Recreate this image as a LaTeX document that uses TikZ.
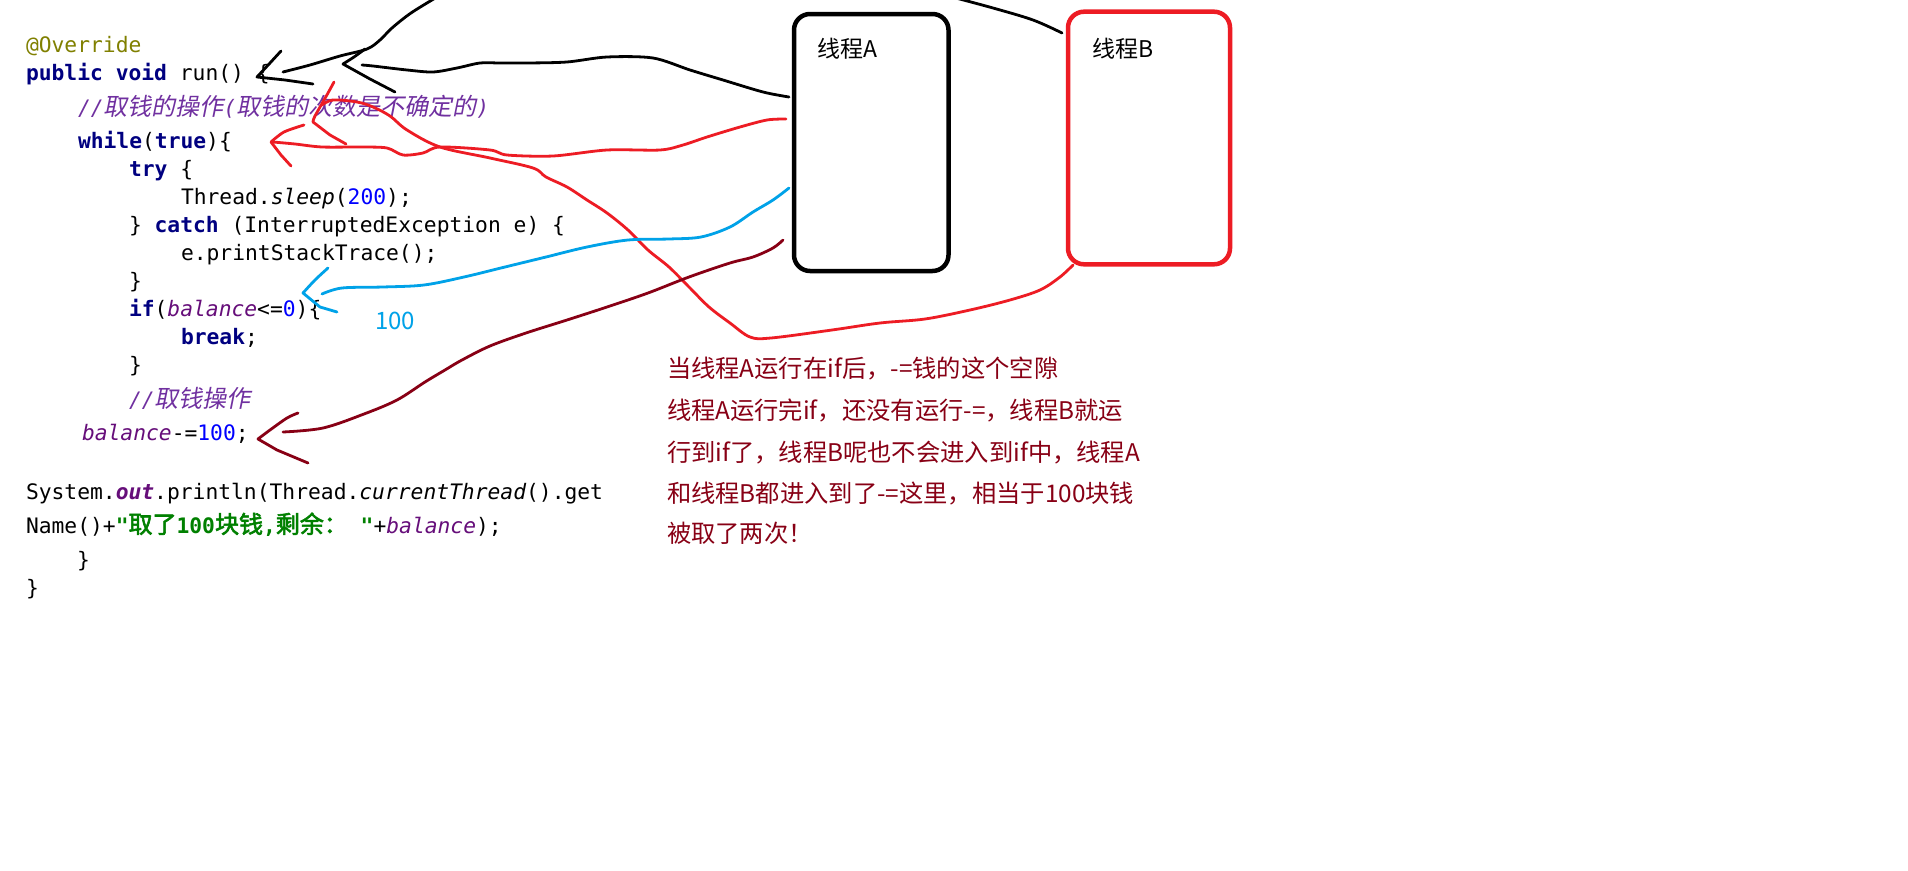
\documentclass[tikz,border=0pt]{standalone}
\usepackage{fontspec}
\setmonofont{DejaVu Sans Mono}
\newfontfamily\cjk[ItalicFont={Noto Sans CJK SC},ItalicFeatures={FakeSlant=0.2},BoldFont={Noto Sans CJK SC},BoldFeatures={FakeBold=2.5}]{Noto Sans CJK SC}
\newfontfamily\uifont{Noto Sans CJK SC}
\definecolor{annc}{HTML}{808000}
\definecolor{kwc}{HTML}{000080}
\definecolor{cmc}{HTML}{7030A0}
\definecolor{fldc}{HTML}{660E7A}
\definecolor{numc}{HTML}{0000FF}
\definecolor{strc}{HTML}{008000}
\definecolor{pred}{HTML}{ED1C24}
\definecolor{pblue}{HTML}{00A2E8}
\definecolor{pdark}{HTML}{880015}
\newcommand\codefont{\ttfamily\fontsize{21.3}{25}\selectfont}
\newcommand\cj[1]{{\cjk\fontsize{24}{28}\selectfont #1}}
\newcommand\jkw[1]{{\color{kwc}\bfseries #1}}
\newcommand\jfld[1]{{\color{fldc}\itshape #1}}
\newcommand\jnum[1]{{\color{numc}#1}}
\tikzset{
  codeline/.style={anchor=base west, inner sep=0pt, outer sep=0pt, font=\codefont},
  uitext/.style={anchor=base west, inner sep=0pt, outer sep=0pt, font=\uifont\fontsize{24.3}{28}\selectfont, text=pdark},
  boxlabel/.style={anchor=base west, inner sep=0pt, font=\uifont\fontsize{23}{27}\selectfont},
  threadbox/.style={draw, rounded corners=16pt, line width=4.5pt, inner sep=0pt, fill=none},
  pen/.style={line width=2.8pt, line cap=round, line join=round},
  blk/.style={pen, draw=black},
  rd/.style={pen, draw=pred},
  bl/.style={pen, draw=pblue},
  dk/.style={pen, draw=pdark},
}
\begin{document}
\begin{tikzpicture}[x=1pt,y=-1pt]
\fill[white] (0,0) rectangle (1908,870);
\useasboundingbox (0,0) rectangle (1908,870);

% code
\node[codeline] (c1) at (26,52) {{\color{annc}@Override}};
\node[codeline] (c2) at (26,80) {\jkw{public} \jkw{void} run() \{};
\node[codeline] (c3) at (78,115) {{\color{cmc}\itshape //\cj{取钱的操作}(\cj{取钱的次数是不确定的})}};
\node[codeline] (c4) at (78,148) {\jkw{while}(\jkw{true})\{};
\node[codeline] (c5) at (129,176) {\jkw{try} \{};
\node[codeline] (c6) at (181,204) {Thread.{\itshape sleep}(\jnum{200});};
\node[codeline] (c7) at (129,232) {\} \jkw{catch} (InterruptedException e) \{};
\node[codeline] (c8) at (181,260) {e.printStackTrace();};
\node[codeline] (c9) at (129,288) {\}};
\node[codeline] (c10) at (129,316) {\jkw{if}(\jfld{balance}<=\jnum{0})\{};
\node[codeline] (c11) at (181,344) {\jkw{break};};
\node[codeline] (c12) at (129,372) {\}};
\node[codeline] (c13) at (129,407) {{\color{cmc}\itshape //\cj{取钱操作}}};
\node[codeline] (c14) at (82,440) {\jfld{balance}-=\jnum{100};};
\node[codeline] (c15) at (26,499) {System.{\color{fldc}\bfseries\itshape out}.println(Thread.{\itshape currentThread}().get};
\node[codeline] (c16) at (26,533) {Name()+{\color{strc}\bfseries "\cj{取了}100\cj{块钱},\cj{剩余：} "}+\jfld{balance});};
\node[codeline] (c17) at (77,567) {\}};
\node[codeline] (c18) at (26,595) {\}};

% thread boxes
\node[threadbox, draw=black, minimum width=154.5pt, minimum height=257pt] (A) at (871.25,142.5) {};
\node[threadbox, draw=pred, minimum width=162pt, minimum height=252.6pt] (B) at (1149,138) {};
\node[boxlabel] (la) at (817,57) {线程A};
\node[boxlabel] (lb) at (1092,57) {线程B};

% explanation
\node[uitext] (t1) at (667,377) {当线程A运行在if后，-=钱的这个空隙};
\node[uitext] (t2) at (667,419) {线程A运行完if，还没有运行-=，线程B就运};
\node[uitext] (t3) at (667,461) {行到if了，线程B呢也不会进入到if中，线程A};
\node[uitext] (t4) at (667,502) {和线程B都进入到了-=这里，相当于100块钱};
\node[uitext] (t5) at (667,542) {被取了两次！};
\node[anchor=base west, inner sep=0pt, font=\uifont\fontsize{24}{28}\selectfont, text=pblue] (hundred) at (375,329) {100};

% endpoints
\coordinate (topA) at (437,-3);
\coordinate (topB) at (952,-3);
\coordinate (aBlk) at (789,97);
\coordinate (aRed) at (786,119);
\coordinate (aBlue) at (789,188);
\coordinate (aDark) at (783,240);
\coordinate (bRed) at (1073,265);
\coordinate (bBlk) at (1062,33);

% black strokes
\draw[blk] plot[smooth, tension=0.55] coordinates {(topA) (411,13) (392,28) (380,40) (367,49) (340,56) (310,65) (283,72)};
\draw[blk] plot[smooth, tension=0.5] coordinates {(281,51) (270,63) (257,77)} -- (285,80) -- (313,84);
\draw[blk] plot[smooth, tension=0.5] coordinates {(aBlk) (763,92) (723,80) (690,70) (653,58) (607,57) (567,62) (527,63) (500,63) (480,63) (457,68) (433,72) (407,70) (373,66) (362,65)};
\draw[blk] plot[smooth, tension=0.5] coordinates {(365,49) (354,57) (343,64)} -- (370,79) -- (395,92);
\draw[blk] plot[smooth, tension=0.55] coordinates {(topB) (993,8) (1033,20) (bBlk)};

% red strokes
\draw[rd] plot[smooth, tension=0.5] coordinates {(aRed) (767,120) (740,127) (707,137) (683,145) (660,150) (607,150) (553,156) (507,155) (490,150) (440,147) (423,153) (403,155) (387,148) (362,147) (322,147) (295,144) (273,142)};
\draw[rd] plot[smooth, tension=0.5] coordinates {(304,125) (284,132) (271,142)} -- (281,155) -- (291,166);
\draw[rd] plot[smooth, tension=0.55] coordinates {(bRed) (1060,277) (1040,290) (1010,300) (970,310) (925,319) (880,323) (832,330) (771,338) (750,337) (730,323) (709,307) (689,287) (669,267) (648,250) (628,230) (607,213) (587,200) (567,187) (546,177) (533,168) (490,158) (440,147) (407,130) (390,116) (373,107) (357,102) (333,100) (322,105)};
\draw[rd] plot[smooth, tension=0.5] coordinates {(334,82) (328,93) (315,116) (313,122)} -- (330,135) -- (346,144);

% blue stroke
\draw[bl] plot[smooth, tension=0.55] coordinates {(aBlue) (773,200) (753,212) (730,227) (701,237) (669,239) (628,240) (587,247) (546,257) (505,267) (464,277) (424,285) (383,287) (342,288) (322,294)};
\draw[bl] plot[smooth, tension=0.5] coordinates {(328,268) (315,280) (303,293)} -- (320,307) -- (337,312);

% dark red stroke
\draw[dk] plot[smooth, tension=0.55] coordinates {(aDark) (773,248) (753,257) (730,263) (689,277) (648,293) (607,307) (567,320) (526,333) (490,346) (462,360) (445,370) (425,382) (397,400) (364,414) (323,428) (283,432)};
\draw[dk] plot[smooth, tension=0.5] coordinates {(298,413) (287,418) (270,430) (258,439)} -- (277,450) -- (308,463);
\end{tikzpicture}
\end{document}
